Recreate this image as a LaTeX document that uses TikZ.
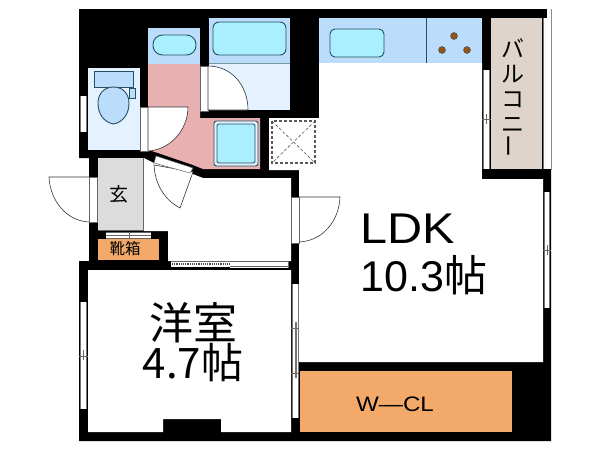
\documentclass[tikz,border=0pt]{standalone}
\usepackage{fontspec}
\setmainfont{Liberation Sans}
\newfontfamily\jp{Noto Sans CJK JP}
\definecolor{lblue}{HTML}{BBDDFB}
\definecolor{cyanf}{HTML}{A9EFFE}
\definecolor{pale}{HTML}{E3F2FE}
\definecolor{pinkf}{HTML}{E9B0B1}
\definecolor{orangef}{HTML}{F2A969}
\definecolor{grayf}{HTML}{DCDCDC}
\definecolor{balc}{HTML}{DFD4CB}
\definecolor{fixt}{HTML}{24505F}
\definecolor{burner}{HTML}{9A5212}
\tikzset{
  wall/.style={fill=black,draw=none},
  white room/.style={fill=white,draw=none},
  fixture/.style={draw=fixt,line width=0.9pt,rounded corners=#1},
  fixture/.default=6pt,
  winline/.style={draw=black!55,line width=0.8pt},
  frame fill/.style={fill=white,draw=black!60,line width=0.5pt},
  leaf/.style={fill=white,draw=black!80,line width=0.6pt},
  label/.style={inner sep=0pt,align=center,text=black},
}
\newcommand{\vwin}[4]{% x1 x2 y1 y2
  \fill[white] (#1,#3) rectangle (#2,#4);
  \draw[winline] (#1+0.5,#3) -- (#1+0.5,#4);
  \draw[winline] (#2-0.5,#3) -- (#2-0.5,#4);
}
\begin{document}
\begin{tikzpicture}[x=1pt,y=-1pt]
\useasboundingbox (0,0) rectangle (600,450);
\fill[white] (0,0) rectangle (600,450);
% silhouette
\fill[wall] (79,9) -- (547,9) -- (547,18) -- (551,18) -- (551,441) -- (79,441) -- (79,261) -- (89,261) -- (89,158) -- (79,158) -- cycle;
% rooms
\fill[white room] (319,63) -- (482,63) -- (482,179) -- (543,179) -- (543,362) -- (299,362) -- (299,170) -- (269,170) -- (269,118) -- (319,118) -- cycle;
\fill[white room] (144,158) -- (154,163) -- (190,173) -- (203,178) -- (291,178) -- (291,261) -- (168,261) -- (168,231) -- (144,231) -- cycle;
\fill[white room] (88,270) -- (291,270) -- (291,432) -- (221,432) -- (221,419) -- (163,419) -- (163,432) -- (88,432) -- cycle;
% toilet
\fill[pale] (88,68) rectangle (140,150);
\draw[fixture=0pt,fill=lblue] (94,71) rectangle (133,87);
\draw[fixt,fill=lblue,line width=0.8pt] (129,88) rectangle (135,98);
\draw[fixt,fill=lblue,line width=0.9pt] (113.5,124) .. controls (103,122) and (98,113) .. (98,103) .. controls (98,94) and (104,87) .. (113.5,87) .. controls (123,87) and (129,94) .. (129,103) .. controls (129,113) and (124,122) .. (113.5,124) -- cycle;
\vwin{80}{87}{96}{132}
% wash room
\fill[pinkf] (148,64) -- (200,64) -- (200,118) -- (260,118) -- (260,169) -- (203,169) -- (193,165) -- (155,152) -- (148,150) -- cycle;
\fill[lblue] (148,28) rectangle (200,64);
\draw[fixture=9.5pt,fill=cyanf] (153,35) rectangle (196,55);
% bath
\fill[pale] (209,63) rectangle (290,110);
\fill[lblue] (209,18) rectangle (290,63);
\draw[fixture=6pt,fill=cyanf] (213,22) rectangle (286,55);
\draw[fixt!60,line width=0.3pt] (209,63) -- (290,63);
% bath door
\draw[frame fill] (200,66) rectangle (208,111);
\draw[leaf] (208,110) -- (248,110) .. controls (248,86) and (232,66) .. (208,66) -- cycle;
% toilet door
\draw[frame fill] (140,107) rectangle (148,151);
\draw[leaf] (148,107) -- (188,107) .. controls (188,130) and (170,150) .. (148,151) -- cycle;
% washing machine pan
\draw[fixture=2.5pt,fill=pale] (214,121) rectangle (258,166);
\draw[fixture=1.5pt,fill=cyanf] (217,124) rectangle (255,163);
% dashed pipe box
\draw[black!65,densely dashed,line width=1.1pt] (272,121) rectangle (315,163);
\draw[black!65,densely dashed,line width=0.6pt] (272,121) -- (315,163) (315,121) -- (272,163);
% entrance + wash door
\draw[leaf] (193,172) -- (180,208) .. controls (165,200) and (155,185) .. (154,165) -- cycle;
\draw[frame fill] (156,156) -- (193,168) -- (190,173) -- (154,163) -- cycle;
\fill[grayf] (98,158) rectangle (143,230);
\draw[black!60,line width=0.7pt] (143.5,158) -- (143.5,231);
\draw[black!60,line width=0.7pt] (98,230.5) -- (144,230.5);
% shoe box
\fill[white] (106,232) rectangle (151,239);
\draw[black!60,line width=0.5pt] (106,232) -- (151,232) (106,238.7) -- (151,238.7) (106,235.5) -- (151,235.5) (129,232) -- (129,239);
\fill[orangef] (98,239) rectangle (159,260);
% entrance door
\fill[white] (89,177) rectangle (97,222);
\draw[black!60,line width=0.5pt] (89,177) rectangle (97,222);
\draw[black!80,line width=0.6pt] (89,177) -- (49,177) .. controls (50,200) and (66,221) .. (89,222);
% sliding door to western room
\fill[white] (171,261) rectangle (288,268);
\draw[black!60,line width=0.5pt] (171,261.5) -- (288,261.5) (230,266) -- (288,266) (288,261) -- (288,268);
\draw[black!70,densely dotted,line width=1.2pt] (172,264) -- (230,264);
\fill[black] (171,266.5) rectangle (230,270);
% LDK door
\fill[white] (291,197) rectangle (299,243);
\draw[black!60,line width=0.5pt] (291,197) rectangle (299,243);
\draw[black!80,line width=0.6pt] (299,197) -- (340,197) .. controls (339,222) and (322,241) .. (299,242);
% windows
\vwin{80}{87}{302}{409}
\draw[black!60,line width=0.5pt] (79,356) -- (88,356) (83.5,350) -- (83.5,360);
\vwin{292}{299}{284}{418}
\draw[black!60,line width=0.5pt] (291,328) -- (299,328) (291,373) -- (299,373);
\fill[black!55] (295,322) rectangle (296.5,378);
\vwin{483}{490}{70}{169}
\draw[black!60,line width=0.5pt] (482,119) -- (491,119) (486.5,114) -- (486.5,124);
\vwin{544}{550}{192}{308}
\draw[black!60,line width=0.5pt] (543,250) -- (551,250) (547,245) -- (547,255);
% kitchen
\fill[lblue] (319,18) rectangle (482,63);
\draw[fixt,line width=0.7pt] (426.5,18) -- (426.5,63);
\draw[fixture=5pt,fill=cyanf] (330,29) rectangle (384,57);
\foreach \p in {(454,36),(442,50),(467,50)} \fill[burner,draw=fixt,line width=0.4pt] \p circle (3.5);
% balcony
\fill[balc] (491,18) rectangle (542,169);
\fill[white] (543,18) rectangle (550.5,169);
\fill[white] (547,9) rectangle (552,18);
\draw[black!55,line width=0.8pt] (543.5,18) -- (543.5,169);
\draw[black!45,line width=0.8pt] (551,9) -- (551,170);
\fill[black] (482,169) rectangle (551,179);
% WCL
\fill[orangef] (300,371) rectangle (512,432);
% labels
\node[label,font={\jp\fontsize{23}{23}\selectfont}] (balcony) at (513,98) {バ\\[2pt]ル\\[2pt]コ\\[2pt]ニ\\[2pt]\rotatebox{90}{ー}};
\node[label,font={\jp\fontsize{19}{19}\selectfont}] (genkan) at (119,194) {玄};
\node[label,font={\jp\fontsize{15.5}{15.5}\selectfont}] (shoes) at (125,249) {靴箱};
\node[label,align=left,font={\fontsize{43}{47}\selectfont}] (ldk) at (424,254) {\scalebox{1.13}[1]{LDK}\\[1pt]10.3{\jp 帖}};
\node[label,font={\jp\fontsize{44}{44}\selectfont}] (western) at (193,342) {洋室\\[-5pt]{\fontsize{42}{42}\selectfont 4.7帖}};
\node[label,font={\fontsize{21}{21}\selectfont}] (wcl) at (395,404) {\scalebox{1.15}[1]{W—CL}};
\end{tikzpicture}
\end{document}
